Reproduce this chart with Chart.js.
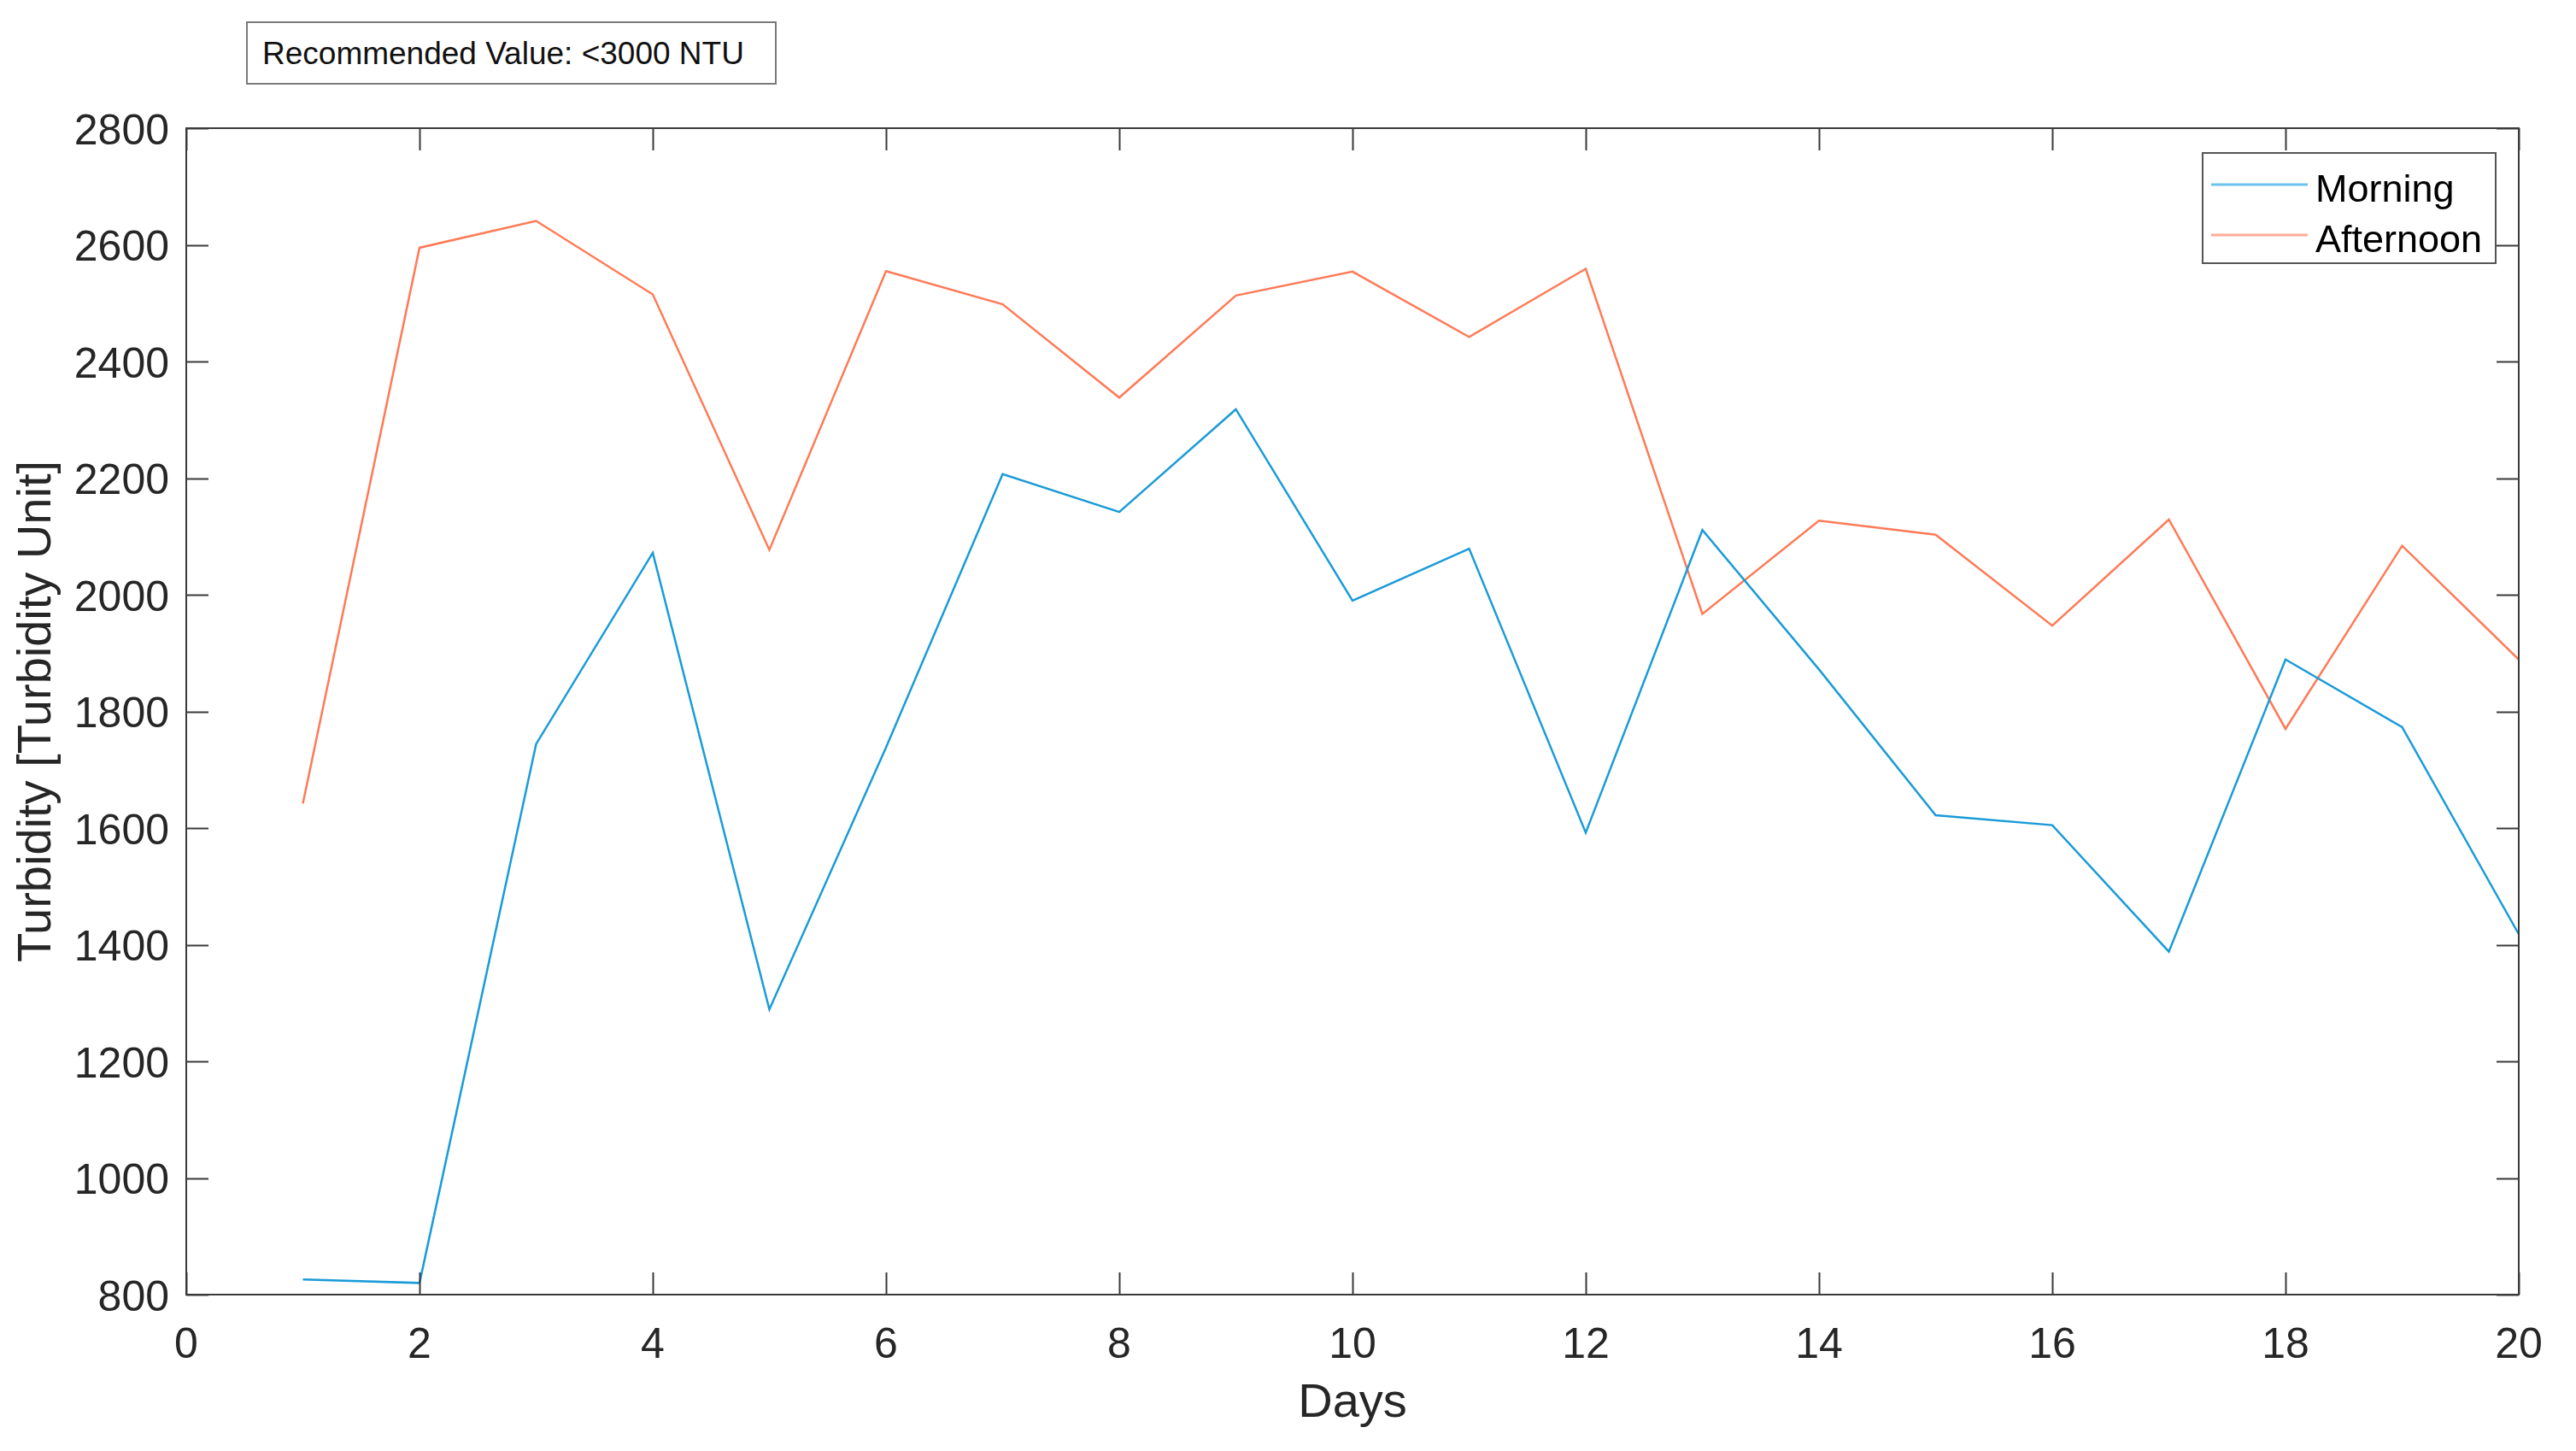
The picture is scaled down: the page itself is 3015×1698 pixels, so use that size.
<!DOCTYPE html>
<html>
<head>
<meta charset="utf-8">
<script src="https://cdn.jsdelivr.net/npm/chart.js@4.4.1/dist/chart.umd.min.js"></script>
<style>
  html, body { margin: 0; padding: 0; background: #ffffff; }
  #wrap { position: relative; width: 3015px; height: 1698px; background: #ffffff; }
  #c { position: absolute; left: 0; top: 0; }
  #note {
    position: absolute; left: 288px; top: 25px; width: 600px; height: 70px;
    border: 2px solid #7a7a7a; background: #ffffff;
    font-family: "Liberation Sans", Arial, Helvetica, sans-serif; font-size: 37px; color: #111111;
    line-height: 72px; padding-left: 17px; box-sizing: content-box; white-space: nowrap;
  }
</style>
</head>
<body>
<div id="wrap">
  <canvas id="c" width="3015" height="1698"></canvas>
  <div id="note">Recommended Value: &lt;3000 NTU</div>
</div>
<script>
// ---- data ----
const days = [1, 2, 3, 4, 5, 6, 7, 8, 9, 10, 11, 12, 13, 14, 15, 16, 17, 18, 19, 20];
const morning = [826, 820, 1744, 2072, 1289, 1738, 2207, 2142, 2318, 1990, 2079, 1592, 2111, 1872, 1622, 1605, 1388, 1889, 1773, 1418];
const afternoon = [1642, 2595, 2641, 2515, 2077, 2555, 2498, 2338, 2513, 2554, 2442, 2559, 1967, 2127, 2103, 1947, 2129, 1770, 2084, 1889];
const seriesLabels = ["Morning", "Afternoon"];
const xTicks = [0, 2, 4, 6, 8, 10, 12, 14, 16, 18, 20];
const yTicks = [800, 1000, 1200, 1400, 1600, 1800, 2000, 2200, 2400, 2600, 2800];
const xTitle = "Days";
const yTitle = "Turbidity [Turbidity Unit]";

const FONT = '"Liberation Sans", Arial, Helvetica, sans-serif';
const AXIS_COLOR = '#3a3a3a';
const TEXT_COLOR = '#262626';
const colors = ['#1a9bd7', '#ff7a57'];
const legendColors = ['#6cc4ee', '#ffab95'];

function pts(arr) { return days.map((d, i) => ({ x: d, y: arr[i] })); }

// box + inward ticks (MATLAB style)
const boxPlugin = {
  id: 'boxTicks',
  afterDatasetsDraw(chart) {
    const { ctx, chartArea: a, scales } = chart;
    const xs = scales.x, ys = scales.y;
    const TL = 26;
    ctx.save();
    ctx.strokeStyle = AXIS_COLOR;
    ctx.lineWidth = 2;
    ctx.beginPath();
    xTicks.forEach(v => {
      const px = Math.round(xs.getPixelForValue(v)) + 0.5;
      ctx.moveTo(px, a.bottom); ctx.lineTo(px, a.bottom - TL);
      ctx.moveTo(px, a.top); ctx.lineTo(px, a.top + TL);
    });
    yTicks.forEach(v => {
      const py = Math.round(ys.getPixelForValue(v)) + 0.5;
      ctx.moveTo(a.left, py); ctx.lineTo(a.left + TL, py);
      ctx.moveTo(a.right, py); ctx.lineTo(a.right - TL, py);
    });
    ctx.stroke();
    ctx.strokeRect(a.left, a.top, a.right - a.left, a.bottom - a.top);
    ctx.restore();
  }
};

// legend box in the upper right of the plot
const legendPlugin = {
  id: 'boxLegend',
  afterDraw(chart) {
    const { ctx, chartArea: a } = chart;
    const w = 343, h = 129;
    const x0 = a.right - 27 - w, y0 = a.top + 29;
    ctx.save();
    ctx.fillStyle = '#ffffff';
    ctx.fillRect(x0, y0, w, h);
    ctx.strokeStyle = '#555555';
    ctx.lineWidth = 2;
    ctx.strokeRect(x0, y0, w, h);
    ctx.font = '45px ' + FONT;
    ctx.textBaseline = 'middle';
    ctx.textAlign = 'left';
    chart.data.datasets.forEach((ds, i) => {
      const cy = y0 + 37 + i * 59;
      ctx.strokeStyle = legendColors[i];
      ctx.lineWidth = 3;
      ctx.beginPath();
      ctx.moveTo(x0 + 10, cy); ctx.lineTo(x0 + 123, cy);
      ctx.stroke();
      ctx.fillStyle = '#000000';
      ctx.fillText(ds.label, x0 + 132, cy + 8);
    });
    ctx.restore();
  }
};

new Chart(document.getElementById('c'), {
  type: 'line',
  data: {
    datasets: [
      { label: seriesLabels[0], data: pts(morning), borderColor: colors[0], backgroundColor: colors[0], borderWidth: 2.5, pointRadius: 0, tension: 0, fill: false },
      { label: seriesLabels[1], data: pts(afternoon), borderColor: colors[1], backgroundColor: colors[1], borderWidth: 2.5, pointRadius: 0, tension: 0, fill: false }
    ]
  },
  options: {
    responsive: false,
    animation: false,
    devicePixelRatio: 1,
    layout: { padding: { left: 0, top: 150, right: 67, bottom: 0 } },
    plugins: { legend: { display: false }, tooltip: { enabled: false }, title: { display: false } },
    scales: {
      x: {
        type: 'linear', min: 0, max: 20,
        afterFit(s) { s.height = 183; },
        afterBuildTicks(s) { s.ticks = xTicks.map(v => ({ value: v })); },
        grid: { display: false, drawTicks: false },
        border: { display: false },
        ticks: { color: TEXT_COLOR, font: { family: FONT, size: 50 }, padding: 30, maxRotation: 0, autoSkip: false,
                 callback: v => String(v) },
        title: { display: true, text: xTitle, color: TEXT_COLOR, font: { family: FONT, size: 56 }, padding: { top: 0, bottom: 22 } }
      },
      y: {
        type: 'linear', min: 800, max: 2800,
        afterFit(s) { s.width = 218; },
        afterBuildTicks(s) { s.ticks = yTicks.map(v => ({ value: v })); },
        grid: { display: false, drawTicks: false },
        border: { display: false },
        ticks: { color: TEXT_COLOR, font: { family: FONT, size: 50 }, padding: 20, autoSkip: false, labelOffset: 5,
                 callback: v => String(v) },
        title: { display: true, text: yTitle, color: TEXT_COLOR, font: { family: FONT, size: 56 }, padding: { top: 10, bottom: 0 } }
      }
    }
  },
  plugins: [boxPlugin, legendPlugin]
});
</script>
</body>
</html>
